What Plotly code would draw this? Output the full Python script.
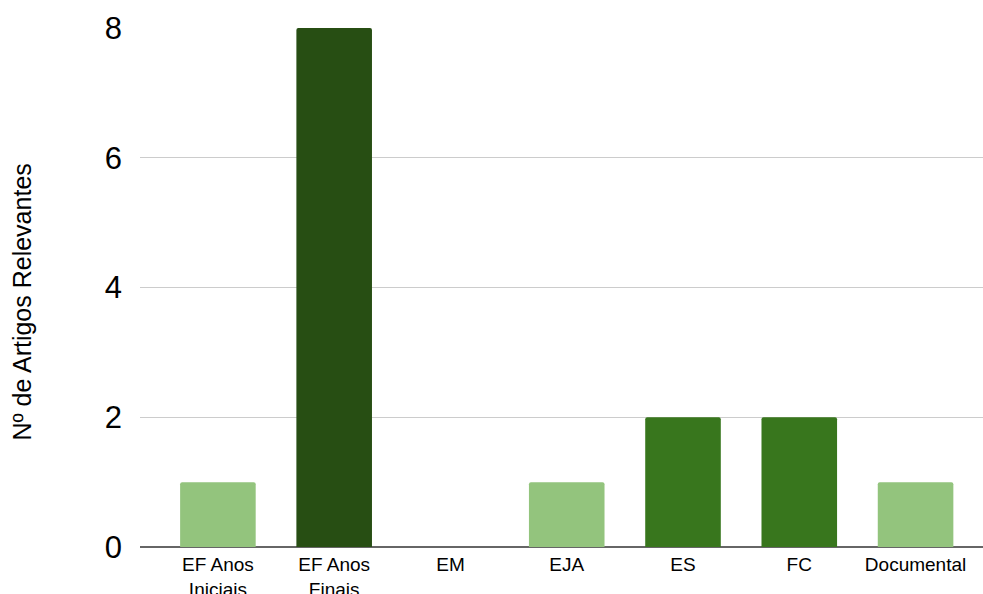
import plotly.graph_objects as go

categories = ["EF Anos<br>Iniciais", "EF Anos<br>Finais", "EM", "EJA", "ES", "FC", "Documental"]
values = [1, 8, 0, 1, 2, 2, 1]
colors = ["#93c47d", "#274e13", "#93c47d", "#93c47d", "#38761d", "#38761d", "#93c47d"]
y_ticks = [0, 2, 4, 6, 8]

W, H = 983, 594
ml, mr, mt, mb = 140, 0, 28, 47

fig = go.Figure(go.Bar(
    x=list(range(len(categories))),
    y=values,
    marker=dict(color=colors, line=dict(width=0)),
    width=0.65,
))

fig.update_layout(
    width=W, height=H,
    margin=dict(l=ml, r=mr, t=mt, b=mb, autoexpand=False),
    paper_bgcolor="white", plot_bgcolor="white",
    font=dict(family="Liberation Sans, Arial, sans-serif", color="#000000"),
    showlegend=False,
    barcornerradius=2,
    xaxis=dict(
        range=[-0.67, 6.58],
        tickmode="array",
        tickvals=list(range(len(categories))),
        ticktext=categories,
        tickfont=dict(size=19, color="#000000"),
        showgrid=False,
        zeroline=False,
        showline=False,
        ticks="",
        ticklabelstandoff=4,
        automargin=False,
        fixedrange=True,
    ),
    yaxis=dict(
        range=[0, 8],
        tickvals=y_ticks,
        tickfont=dict(size=31, color="#000000"),
        showgrid=True,
        gridcolor="#cccccc",
        gridwidth=1,
        zeroline=True,
        zerolinecolor="#666666",
        zerolinewidth=1.5,
        ticks="",
        ticklabelstandoff=17,
        showline=False,
        automargin=False,
    ),
    annotations=[dict(
        text="Nº de Artigos Relevantes",
        xref="paper", yref="paper",
        x=-(ml - 22) / (W - ml - mr), y=0.471,
        xanchor="center", yanchor="middle",
        textangle=-90, showarrow=False,
        font=dict(size=25, color="#000000"),
    )],
)

fig.write_html(
    "out.html",
    config={"displayModeBar": False},
    post_script="document.body.style.margin='0';document.body.style.overflow='hidden';",
)
